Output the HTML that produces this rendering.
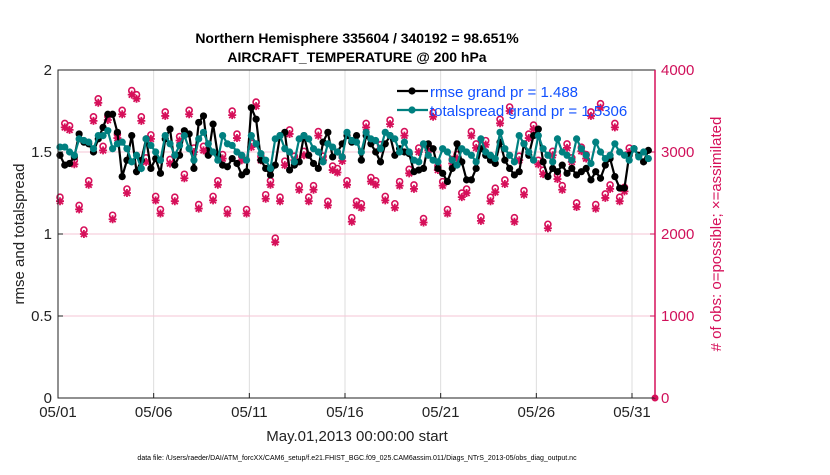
<!DOCTYPE html>
<html><head><meta charset="utf-8"><style>
body{margin:0;background:#fff;font-family:"Liberation Sans",sans-serif}
</style></head><body>
<svg id="c" width="830" height="470" xmlns="http://www.w3.org/2000/svg" font-family="Liberation Sans, sans-serif"></svg>
<script>
const dateTicks=["05/01","05/06","05/11","05/16","05/21","05/26","05/31"];
const leftTicks=[0,0.5,1,1.5,2];
const rightTicks=[0,1000,2000,3000,4000];
const rmse=[1.48,1.42,1.43,1.47, 1.61,1.56,1.55,1.50, 1.58,1.65,1.73,1.73, 1.62,1.35,1.45,1.60, 1.38,1.45,1.58,1.40, 1.46,1.37,1.58,1.64, 1.42,1.48,1.63,1.61, 1.40,1.68,1.72,1.48, 1.67,1.48,1.42,1.41, 1.46,1.43,1.36,1.38, 1.77,1.70,1.45,1.40, 1.36,1.42,1.60,1.62, 1.39,1.42,1.44,1.60, 1.48,1.43,1.40,1.56, 1.62,1.47,1.50,1.55, 1.60,1.56,1.60,1.45, 1.60,1.55,1.50,1.44, 1.55,1.60,1.48,1.52, 1.50,1.49,1.38,1.39, 1.40,1.55,1.52,1.40, 1.37,1.32,1.40,1.55, 1.44,1.33,1.33,1.40, 1.52,1.48,1.45,1.43, 1.56,1.45,1.40,1.36, 1.38,1.55,1.48,1.60, 1.64,1.44,1.35,1.40, 1.38,1.42,1.37,1.40, 1.36,1.38,1.40,1.33, 1.38,1.34,1.42,1.46, 1.35,1.28,1.28,1.48, 1.52,1.48,1.44,1.51];
const spread=[1.53,1.53,1.50,1.48, 1.58,1.57,1.56,1.52, 1.60,1.60,1.63,1.52, 1.55,1.56,1.52,1.44, 1.48,1.40,1.58,1.54, 1.50,1.45,1.60,1.55, 1.48,1.54,1.60,1.52, 1.45,1.58,1.62,1.55, 1.50,1.45,1.60,1.55, 1.54,1.50,1.48,1.45, 1.60,1.55,1.49,1.45, 1.40,1.58,1.60,1.52, 1.50,1.44,1.58,1.60, 1.58,1.52,1.50,1.44, 1.55,1.53,1.50,1.47, 1.62,1.57,1.56,1.50, 1.62,1.58,1.57,1.52, 1.62,1.60,1.58,1.50, 1.56,1.50,1.45,1.44, 1.55,1.48,1.45,1.44, 1.52,1.50,1.45,1.42, 1.52,1.50,1.48,1.44, 1.58,1.50,1.48,1.46, 1.62,1.52,1.48,1.44, 1.60,1.55,1.50,1.45, 1.60,1.52,1.48,1.44, 1.58,1.50,1.48,1.45, 1.58,1.52,1.48,1.43, 1.56,1.50,1.46,1.48, 1.55,1.50,1.48,1.45, 1.52,1.47,1.50,1.46];
const obs=[2400,3300,3270,2850, 2300,2000,2600,3380, 3600,3020,3390,2180, 3170,3460,2500,3700, 3650,3380,2880,3160, 2410,2250,3440,2860, 2400,3140,2680,3460, 3000,2310,3020,2980, 2410,2600,2920,2250, 3450,3170,2900,2250, 3060,3560,2900,2430, 2600,1900,2400,2840, 3220,2900,2540,2960, 2400,2540,3200,2900, 2350,2780,2750,2890, 2600,2150,2350,2320, 3300,2640,2600,3040, 2410,3340,2320,2590, 3200,2740,2550,3000, 2140,3020,3430,2780, 2590,2250,2860,2920, 2450,2500,3200,3050, 2160,3090,2400,2510, 3350,2610,3500,2150, 2900,2480,3170,3280, 2850,2730,2070,2960, 2670,2540,3050,2880, 2330,3010,2920,3440, 2310,3540,2440,2550, 3300,2400,2520,3000];
const svg=document.getElementById('c');
const NS='http://www.w3.org/2000/svg';
const X0=58,X1=655,Y0=398,Y1=70;
const dayPx=(632-58)/30;
const xi=i=>X0+i*dayPx/4+2;
const yl=v=>Y0-(v/2)*(Y0-Y1);
const yr=v=>Y0-(v/4000)*(Y0-Y1);
function el(t,a,p){const e=document.createElementNS(NS,t);for(const k in a)e.setAttribute(k,a[k]);(p||svg).appendChild(e);return e;}
// grid
dateTicks.forEach((d,i)=>{const x=X0+i*5*dayPx;
const g=el('line',{x1:x,x2:x,y1:Y1,y2:Y0,stroke:'#ddd','stroke-width':1});


const t=el('text',{x:x,y:417,'font-size':15,'text-anchor':'middle',fill:'#222'});t.textContent=d;


el('line',{x1:x,x2:x,y1:Y0,y2:Y0-5,stroke:'#222'});});
rightTicks.forEach(v=>{const y=yr(v);
if(v>0&&v<4000){const g=el('line',{x1:X0,x2:X1,y1:y,y2:y,stroke:'#f6c6d6','stroke-width':1});

}
const t=el('text',{x:X1+6,y:y+5,'font-size':15,fill:'#d0105a'});t.textContent=v;


el('line',{x1:X1,x2:X1-5,y1:y,y2:y,stroke:'#d0105a'});});
leftTicks.forEach(v=>{const y=yl(v);
const t=el('text',{x:X0-6,y:y+5,'font-size':15,'text-anchor':'end',fill:'#222'});t.textContent=v;


el('line',{x1:X0,x2:X0+5,y1:y,y2:y,stroke:'#222'});});
// obs markers
const og=el('g',{});


const red='#d6105a';
obs.forEach((v,i)=>{const x=xi(i),y=yr(v);
el('circle',{cx:x,cy:y-4,r:3,fill:'none',stroke:red,'stroke-width':1.6},og);
el('path',{d:`M${x-4} ${y}h8M${x} ${y-4}v8M${x-3} ${y-3}l6 6M${x+3} ${y-3}l-6 6`,stroke:red,'stroke-width':1.8},og);});
function series(vals,col,name){const g=el('g',{});


el('polyline',{points:vals.map((v,i)=>xi(i)+','+yl(v)).join(' '),fill:'none',stroke:col,'stroke-width':2.2},g);
vals.forEach((v,i)=>el('circle',{cx:xi(i),cy:yl(v),r:3.6,fill:col},g));}
series(rmse,'#000','rmse-series');
series(spread,'#008080','totalspread-series');
el('circle',{cx:655,cy:398,r:3.5,fill:red});
// axes box
el('rect',{x:X0,y:Y1,width:X1-X0,height:Y0-Y1,fill:'none',stroke:'#222','stroke-width':1});
el('line',{x1:X1,x2:X1,y1:Y1,y2:Y0,stroke:red,'stroke-width':1.5});
// legend
const lg=el('g',{});


[['rmse grand pr = 1.488','#000',91],['totalspread grand pr = 1.5306','#008080',110]].forEach(([t,c,y])=>{
el('line',{x1:397,x2:428,y1:y,y2:y,stroke:c,'stroke-width':2.2},lg);el('circle',{cx:412,cy:y,r:3.6,fill:c},lg);
const tx=el('text',{x:430,y:y+6,'font-size':15,fill:'#1050ff'},lg);tx.textContent=t;

});
function txt(s,a,name){const t=el('text',a);t.textContent=s;

}
txt('Northern Hemisphere 335604 / 340192 = 98.651%',{x:357,y:43,'font-size':14,'font-weight':'bold','text-anchor':'middle'},'chart-title');
txt('AIRCRAFT_TEMPERATURE @ 200 hPa',{x:357,y:62,'font-size':14,'font-weight':'bold','text-anchor':'middle'},'chart-subtitle');
txt('May.01,2013 00:00:00 start',{x:357,y:441,'font-size':15,'text-anchor':'middle',fill:'#222'},'x-axis-title');
txt('rmse and totalspread',{x:0,y:0,'font-size':15,'text-anchor':'middle',fill:'#222',transform:'translate(24,234) rotate(-90)'},'left-axis-title');
txt('# of obs: o=possible; \u00d7=assimilated',{x:0,y:0,'font-size':15,'text-anchor':'middle',fill:red,transform:'translate(721,234) rotate(-90)'},'right-axis-title');
txt('data file: /Users/raeder/DAI/ATM_forcXX/CAM6_setup/f.e21.FHIST_BGC.f09_025.CAM6assim.011/Diags_NTrS_2013-05/obs_diag_output.nc',{x:357,y:460,'font-size':7,'text-anchor':'middle'},'data-file-footnote');
</script>
</body></html>
